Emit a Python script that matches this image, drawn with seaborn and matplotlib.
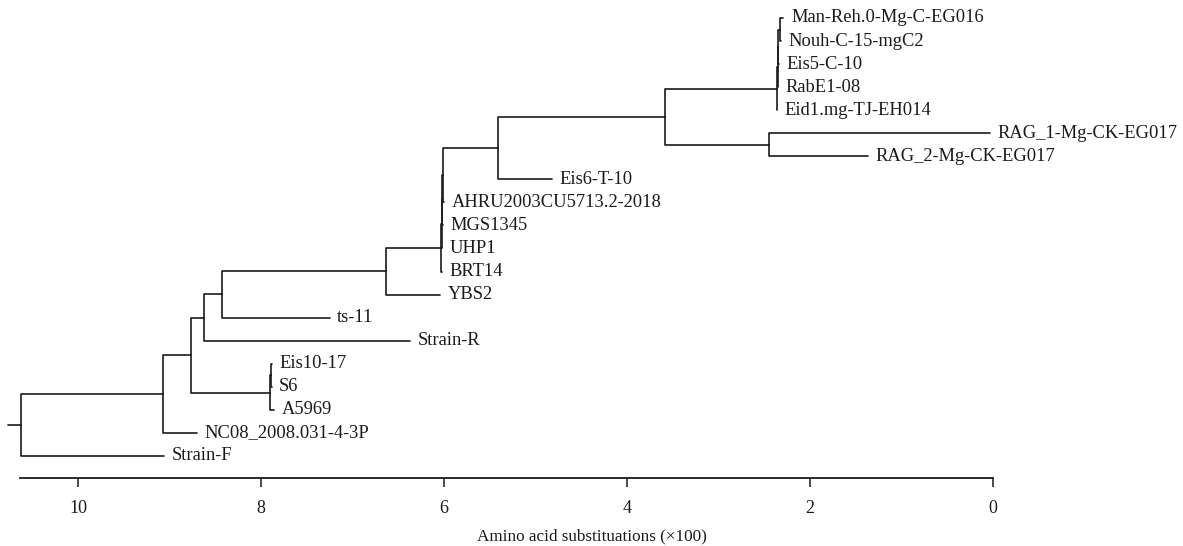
import matplotlib
matplotlib.use("Agg")
import matplotlib.pyplot as plt
import seaborn as sns
import pandas as pd

sns.set_theme(style="ticks")
plt.rcParams['font.family'] = ['Liberation Serif', 'DejaVu Serif']

# leaves, top to bottom, with parent node and tip position (substitutions x100)
leaf_names = ["Man-Reh.0-Mg-C-EG016", "Nouh-C-15-mgC2", "Eis5-C-10", "RabE1-08",
              "Eid1.mg-TJ-EH014", "RAG_1-Mg-CK-EG017", "RAG_2-Mg-CK-EG017", "Eis6-T-10",
              "AHRU2003CU5713.2-2018", "MGS1345", "UHP1", "BRT14", "YBS2", "ts-11",
              "Strain-R", "Eis10-17", "S6", "A5969", "NC08_2008.031-4-3P", "Strain-F"]
leaf_parent = ["J1", "J1", "J2", "J3", "J", "K", "K", "H",
               "F1", "F2", "F3", "F", "E", "D",
               "C", "G1", "G1", "G", "A", "root"]
leaf_pos = [2.29, 2.32, 2.34, 2.355, 2.36, 0.03, 1.37, 4.82,
            6.00, 6.01, 6.02, 6.02, 6.04, 7.25,
            6.37, 7.885, 7.885, 7.86, 8.70, 9.06]

# internal nodes
node_names = ["root", "A", "B", "C", "D", "E", "F", "F3", "F2", "F1", "H", "I",
              "J", "J3", "J2", "J1", "K", "G", "G1"]
node_parent = [None, "root", "A", "B", "C", "D", "E", "F", "F3", "F2", "F1", "H",
               "I", "J", "J3", "J2", "I", "B", "G"]
node_pos = [10.62, 9.07, 8.77, 8.62, 8.43, 6.63, 6.03, 6.025, 6.02, 6.01, 5.41, 3.58,
            2.36, 2.355, 2.345, 2.33, 2.45, 7.90, 7.89]
root_stub = 10.77

tick_vals = [0, 2, 4, 6, 8, 10]

# --- layout: leaf y = row, node y = midpoint of first and last child ---
pos = dict(zip(leaf_names, leaf_pos))
pos.update(zip(node_names, node_pos))
parent = dict(zip(leaf_names, leaf_parent))
parent.update(zip(node_names, node_parent))
children = {n: [] for n in node_names}
order = leaf_names + node_names
for n in order:
    if parent[n] is not None:
        children[parent[n]].append(n)

ypos = {n: i for i, n in enumerate(leaf_names)}


def get_y(n):
    if n in ypos:
        return ypos[n]
    ys = [get_y(c) for c in children[n]]
    ypos[n] = (min(ys) + max(ys)) / 2
    return ypos[n]


get_y("root")

rows = []
seg = 0
for n in order:
    p = parent[n]
    if p is None:
        rows += [(root_stub, ypos[n], seg), (pos[n], ypos[n], seg)]
    else:
        rows += [(pos[p], ypos[p], seg), (pos[p], ypos[n], seg), (pos[n], ypos[n], seg)]
    seg += 1
df = pd.DataFrame(rows, columns=["x", "y", "seg"])

fig = plt.figure(figsize=(11.83, 5.46), dpi=100)
ax = fig.add_axes([0, 68 / 546, 1, 478 / 546])
sns.lineplot(data=df, x="x", y="y", units="seg", estimator=None, sort=False,
             color="#1a1a1a", linewidth=1.2, ax=ax)

for name in leaf_names:
    ax.annotate(name, (pos[name], ypos[name]), xytext=(5.5, 0), textcoords="offset points",
                va="center", ha="left", fontsize=13.3, color="#1a1a1a")

ax.set_xlim(993 / 91.5, (993 - 1183) / 91.5)
ax.set_ylim(460 / 23.05, -18 / 23.05)
for s in ["left", "top", "right"]:
    ax.spines[s].set_visible(False)
ax.spines["bottom"].set_bounds(0, 10.63)
ax.spines["bottom"].set_linewidth(1.3)
ax.spines["bottom"].set_color("#1a1a1a")
ax.set_yticks([])
ax.set_xticks(tick_vals)
ax.set_xticklabels([str(t) for t in tick_vals])
ax.tick_params(axis="x", direction="out", length=6.5, width=1.1, pad=9.5,
               labelsize=13, colors="#1a1a1a")
ax.set_ylabel("")
ax.set_xlabel("Amino acid substituations (×100)", fontsize=12.3, labelpad=8, color="#1a1a1a")
ax.patch.set_alpha(0)

fig.savefig("out.png", dpi=100)
